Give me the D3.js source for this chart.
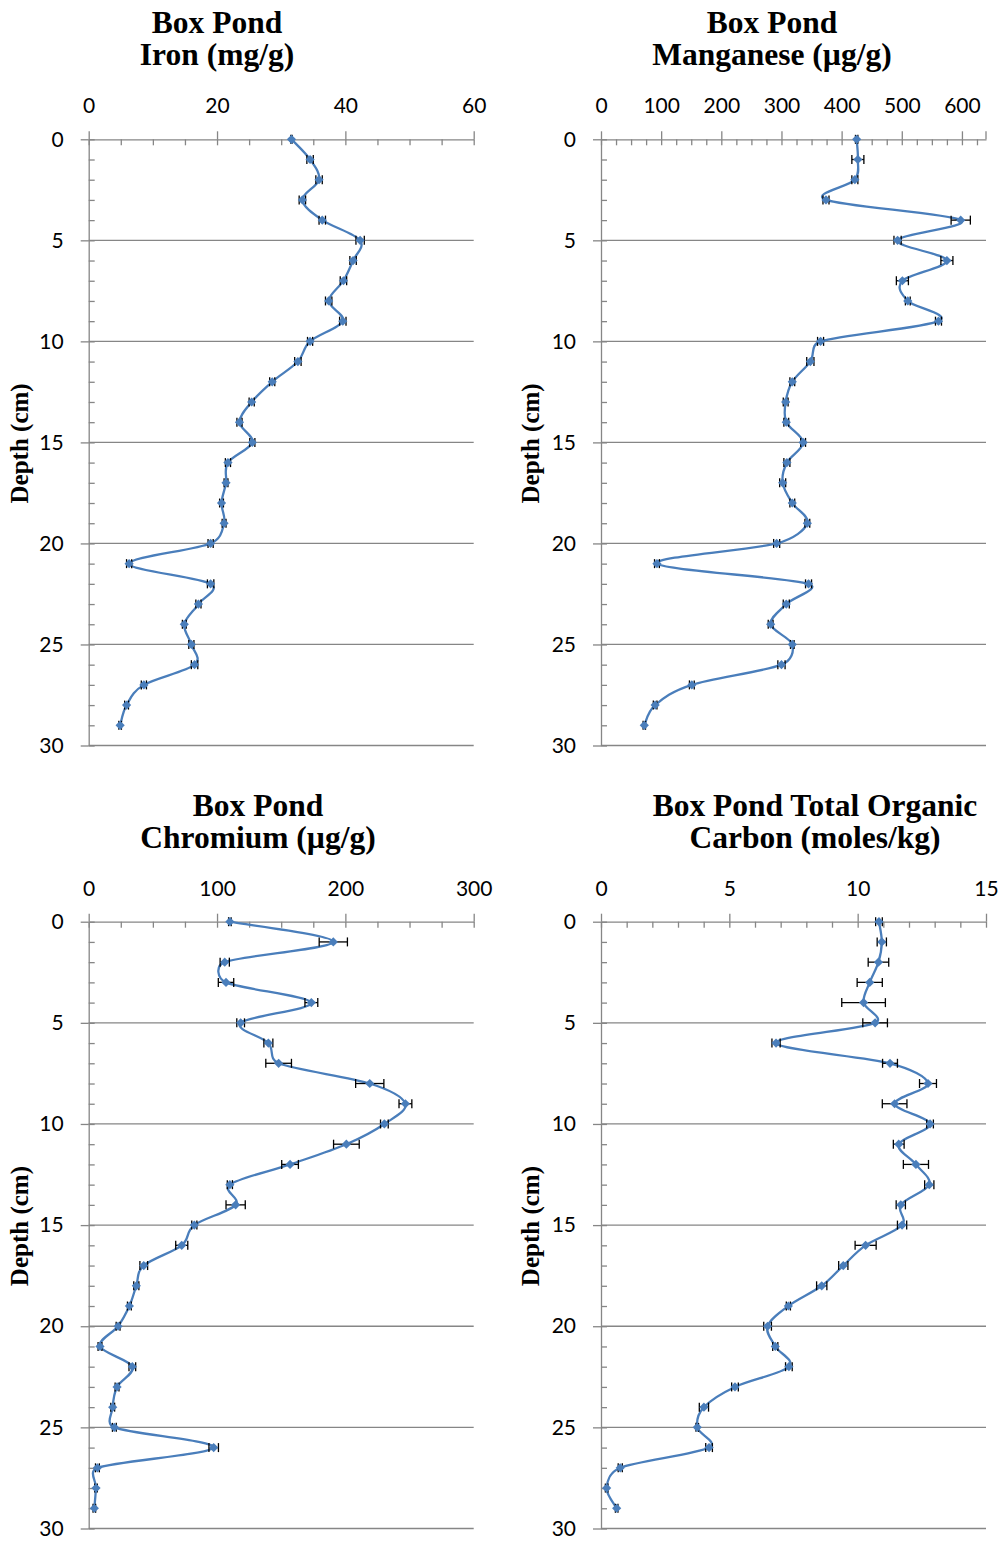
<!DOCTYPE html>
<html lang="en">
<head>
<meta charset="utf-8">
<title>Box Pond depth profiles</title>
<script src="https://d3js.org/d3.v7.min.js"></script>
<style>
    body {
        margin: 0;
        background-color: #ffffff;
    }
    /* tick numbers */
    .tick text {
        font-family: Lato, "Open Sans", sans-serif;
        font-size: 21px;
        fill: #000000;
    }
    .tick line, .domain {
        stroke: #868686;
        stroke-width: 1.3px;
    }
    /* chart titles */
    .title {
        font-family: "Liberation Serif", "Times New Roman", serif;
        font-weight: bold;
        font-size: 31.5px;
        fill: #000000;
    }
    /* depth axis title */
    .axis-title {
        font-family: "Liberation Serif", "Times New Roman", serif;
        font-weight: bold;
        font-size: 25px;
        fill: #000000;
    }
</style>
</head>
<body>
<svg id="chart" width="1003" height="1541"></svg>
<script>

// depth of each sample (cm)
const depth = [0, 1, 2, 3, 4, 5, 6, 7, 8, 9, 10, 11, 12, 13, 14, 15, 16, 17, 18, 19, 20, 21, 22, 23, 24, 25, 26, 27, 28, 29];

// iron (mg/g)
const ironVal = [31.6, 34.5, 35.9, 33.3, 36.4, 42.3, 41.2, 39.7, 37.4, 39.6, 34.5, 32.6, 28.6, 25.4, 23.5, 25.5, 21.7, 21.4, 20.7, 21.1, 19.0, 6.3, 19.0, 17.1, 14.9, 16.0, 16.5, 8.6, 5.9, 4.9];
const ironErr = [0.1, 0.5, 0.5, 0.5, 0.5, 0.65, 0.5, 0.5, 0.5, 0.5, 0.4, 0.5, 0.4, 0.4, 0.4, 0.4, 0.4, 0.3, 0.3, 0.3, 0.4, 0.4, 0.5, 0.4, 0.3, 0.4, 0.5, 0.4, 0.3, 0.2];

// manganese (µg/g)
const mnVal = [425, 427, 422, 374, 598, 493, 575, 501, 510, 561, 365, 348, 318, 307, 308, 336, 309, 302, 318, 343, 292, 93, 345, 308, 282, 318, 300, 151, 90, 72];
const mnErr = [2, 10, 5, 5, 16, 6, 10, 10, 4, 5, 5, 6, 4, 4, 4, 4, 5, 5, 4, 4, 5, 4, 5, 5, 4, 3, 6, 4, 3, 2];

// chromium (µg/g)
const crVal = [110, 190.6, 106, 107, 173.5, 118.4, 140, 148, 219, 246.8, 230.4, 200.8, 156.9, 110, 114.5, 82.3, 72.5, 42.9, 37.1, 31.7, 22.9, 8.8, 34, 22.1, 18.7, 20, 97.4, 6.8, 5.7, 4.4];
const crErr = [1, 11, 3.6, 6, 5, 3, 3.5, 10, 11, 5, 3, 10, 6.5, 2, 7.5, 2, 4.7, 3, 2, 1.5, 1.5, 1.5, 2.6, 1.5, 1.5, 1.5, 3.7, 1.5, 1, 1];

// total organic carbon (moles/kg)
const tocVal = [10.83, 10.94, 10.81, 10.47, 10.23, 10.68, 6.82, 11.26, 12.74, 11.44, 12.82, 11.6, 12.27, 12.79, 11.68, 11.73, 10.31, 9.44, 8.6, 7.3, 6.49, 6.79, 7.32, 5.22, 4.01, 3.75, 4.21, 0.75, 0.22, 0.61];
const tocErr = [0.13, 0.18, 0.4, 0.49, 0.85, 0.48, 0.16, 0.29, 0.33, 0.48, 0.13, 0.21, 0.49, 0.18, 0.18, 0.18, 0.41, 0.18, 0.2, 0.08, 0.15, 0.1, 0.13, 0.13, 0.18, 0.05, 0.13, 0.08, 0.05, 0.05];

// axis ticks
const depthMajor = [0, 5, 10, 15, 20, 25, 30];
const depthGrid = [5, 10, 15, 20, 25, 30];
const ironTicks = [0, 20, 40, 60];
const mnTicks = [0, 100, 200, 300, 400, 500, 600];
const crTicks = [0, 100, 200, 300];
const tocTicks = [0, 5, 10, 15];

const svg = d3.select("#chart");
const blue = "#4A7EBB";

// spreadsheet-style smoothed line: catmull-rom bezier handles (1/6),
// clamped so a handle is never longer than half its segment
function smoothPath(pts) {
    const dist = (a, b) => Math.hypot(b[0] - a[0], b[1] - a[1]);
    const path = d3.path();
    path.moveTo(pts[0][0], pts[0][1]);
    for (let i = 0; i < pts.length - 1; i++) {
        const p0 = pts[Math.max(i - 1, 0)];
        const p1 = pts[i];
        const p2 = pts[i + 1];
        const p3 = pts[Math.min(i + 2, pts.length - 1)];
        const d02 = dist(p0, p2), d12 = dist(p1, p2), d13 = dist(p1, p3);
        let f0 = 1 / 6, f1 = 1 / 6;
        if (d02 / 6 >= d12 / 2) f0 = d12 / d02 / 2;
        if (d13 / 6 >= d12 / 2) f1 = d12 / d13 / 2;
        path.bezierCurveTo(
            p1[0] + (p2[0] - p0[0]) * f0, p1[1] + (p2[1] - p0[1]) * f0,
            p2[0] - (p3[0] - p1[0]) * f1, p2[1] - (p3[1] - p1[1]) * f1,
            p2[0], p2[1]);
    }
    return path.toString();
}

function drawPanel(p) {
    const x = d3.scaleLinear().domain([0, p.max]).range([p.left, p.right]);
    const y = d3.scaleLinear().domain([0, 30]).range([p.top, p.bottom]);
    const g = svg.append("g");

    // horizontal gridlines
    g.selectAll("line.grid")
        .data(depthGrid)
        .enter()
        .append("line")
        .attr("class", "grid")
        .attr("x1", p.left)
        .attr("x2", p.right)
        .attr("y1", d => y(d))
        .attr("y2", d => y(d))
        .attr("stroke", "#868686")
        .attr("stroke-width", 1.3);

    // top axis - minor ticks point down into the plot
    const minorX = d3.range(0, p.max + 0.001, p.minor);
    g.append("g")
        .attr("transform", `translate(0,${p.top})`)
        .call(d3.axisTop(x).tickValues(minorX).tickSize(-6).tickFormat(""))
        .select(".domain").remove();

    // top axis - major ticks with labels
    const topAxis = g.append("g")
        .attr("transform", `translate(0,${p.top})`)
        .call(d3.axisTop(x).tickValues(p.ticks).tickSize(8).tickSizeOuter(0).tickPadding(19));
    topAxis.selectAll(".tick text").attr("dy", "0.05em");
    if (p.endTick) {
        topAxis.append("line")
            .attr("x1", x(p.max)).attr("x2", x(p.max))
            .attr("y1", 0).attr("y2", -8)
            .attr("stroke", "#868686").attr("stroke-width", 1.3);
    }

    // left axis - minor ticks every cm
    g.append("g")
        .attr("transform", `translate(${p.left},0)`)
        .call(d3.axisLeft(y).tickValues(depth.concat([30])).tickSize(-6).tickFormat(""))
        .select(".domain").remove();

    // left axis - labelled depths
    g.append("g")
        .attr("transform", `translate(${p.left},0)`)
        .call(d3.axisLeft(y).tickValues(depthMajor).tickSize(8).tickSizeOuter(0).tickPadding(17));

    // smoothed profile line
    const pts = depth.map((d, i) => [x(p.values[i]), y(d)]);
    g.append("path")
        .attr("d", smoothPath(pts))
        .attr("fill", "none")
        .attr("stroke", blue)
        .attr("stroke-width", 2.3);

    // error bars
    const eb = g.selectAll("g.err")
        .data(depth)
        .enter()
        .append("g")
        .attr("class", "err")
        .attr("stroke", "#000000")
        .attr("stroke-width", 1.3);
    eb.append("line")
        .attr("x1", (d, i) => x(p.values[i] - p.errors[i]))
        .attr("x2", (d, i) => x(p.values[i] + p.errors[i]))
        .attr("y1", d => y(d)).attr("y2", d => y(d));
    eb.append("line")
        .attr("x1", (d, i) => x(p.values[i] - p.errors[i]))
        .attr("x2", (d, i) => x(p.values[i] - p.errors[i]))
        .attr("y1", d => y(d) - 4.5).attr("y2", d => y(d) + 4.5);
    eb.append("line")
        .attr("x1", (d, i) => x(p.values[i] + p.errors[i]))
        .attr("x2", (d, i) => x(p.values[i] + p.errors[i]))
        .attr("y1", d => y(d) - 4.5).attr("y2", d => y(d) + 4.5);

    // diamond markers
    g.selectAll("path.marker")
        .data(depth)
        .enter()
        .append("path")
        .attr("class", "marker")
        .attr("d", "M0,-4.6L4.6,0L0,4.6L-4.6,0Z")
        .attr("transform", (d, i) => `translate(${x(p.values[i])},${y(d)})`)
        .attr("fill", blue);

    // title (two lines)
    const t = svg.append("text")
        .attr("class", "title")
        .attr("text-anchor", "middle");
    t.append("tspan").attr("x", p.titleX).attr("y", p.titleY).text(p.title[0]);
    t.append("tspan").attr("x", p.titleX).attr("y", p.titleY + 32).text(p.title[1]);

    // depth title
    svg.append("text")
        .attr("class", "axis-title")
        .attr("text-anchor", "middle")
        .attr("transform", `translate(${p.depthX},${(p.top + p.bottom) / 2 + 1}) rotate(-90)`)
        .text("Depth (cm)");
}

drawPanel({
    values: ironVal, errors: ironErr, max: 60, minor: 5, ticks: ironTicks,
    left: 88.7, right: 473.7, top: 139.3, bottom: 745.5,
    title: ["Box Pond", "Iron (mg/g)"], titleX: 217, titleY: 33,
    depthX: 28
});

drawPanel({
    values: mnVal, errors: mnErr, max: 640, minor: 25, ticks: mnTicks, endTick: true,
    left: 601, right: 986, top: 139.3, bottom: 745.5,
    title: ["Box Pond", "Manganese (µg/g)"], titleX: 772, titleY: 33,
    depthX: 539
});

drawPanel({
    values: crVal, errors: crErr, max: 300, minor: 25, ticks: crTicks,
    left: 88.7, right: 473.7, top: 921.7, bottom: 1528.5,
    title: ["Box Pond", "Chromium (µg/g)"], titleX: 258, titleY: 815.5,
    depthX: 28
});

drawPanel({
    values: tocVal, errors: tocErr, max: 15, minor: 1, ticks: tocTicks,
    left: 601, right: 986, top: 921.7, bottom: 1528.5,
    title: ["Box Pond Total Organic", "Carbon (moles/kg)"], titleX: 815, titleY: 815.5,
    depthX: 539
});

</script>
</body>
</html>
